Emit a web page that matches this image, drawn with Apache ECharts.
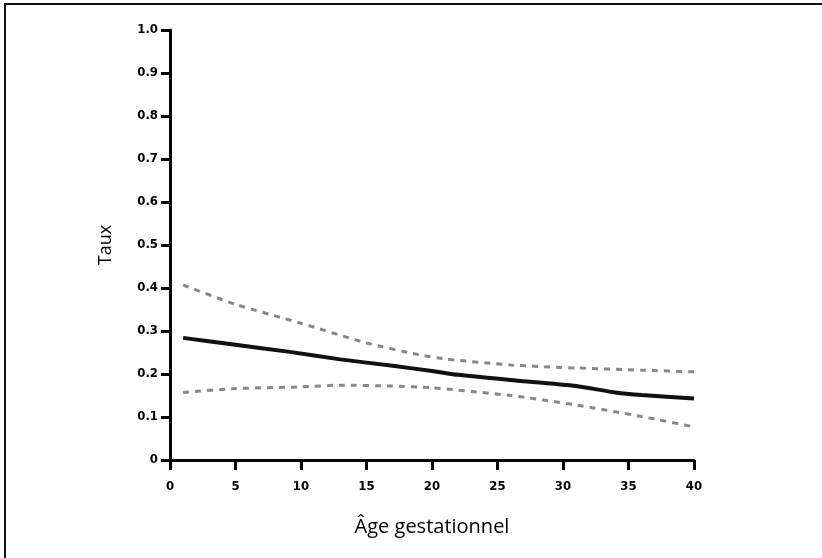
<!DOCTYPE html>
<html>
<head>
<meta charset="utf-8">
<script src="https://cdn.jsdelivr.net/npm/echarts@6/dist/echarts.min.js"></script>
<style>
  html, body { margin: 0; padding: 0; background: #fff; }
  #chart { width: 822px; height: 558px; }
</style>
</head>
<body>
<div id="chart"></div>
<script>
  // taux estime et bornes de l'intervalle
  var tauxPoints = [[1, 0.284], [5, 0.268], [9, 0.252], [13, 0.234], [17, 0.219], [20, 0.207],
    [22, 0.198], [26, 0.186], [31, 0.172], [34, 0.157], [36, 0.151], [40, 0.143]];
  var bornSup = [[1, 0.407], [5, 0.362], [10, 0.318], [15, 0.272], [19, 0.245], [21, 0.235],
    [26, 0.221], [31, 0.214], [36, 0.209], [40, 0.205]];
  var bornInf = [[1, 0.157], [5, 0.166], [10, 0.170], [13, 0.174], [17, 0.172], [20, 0.168],
    [26, 0.150], [31, 0.128], [36, 0.101], [40, 0.077]];
  var xTicks = [0, 5, 10, 15, 20, 25, 30, 35, 40];
  var yTicks = ['0', '0.1', '0.2', '0.3', '0.4', '0.5', '0.6', '0.7', '0.8', '0.9', '1.0'];

  var tickFont = {
    color: '#000',
    fontFamily: 'DejaVu Sans Condensed, Liberation Sans Narrow, sans-serif',
    fontWeight: 'bold',
    fontSize: 13
  };

  var myChart = echarts.init(document.getElementById('chart'));
  myChart.setOption({
    animation: false,
    backgroundColor: '#fff',
    grid: { left: 170, top: 30, right: 128, bottom: 98 },
    graphic: [
      { type: 'line', shape: { x1: 5, y1: 3, x2: 5, y2: 558 }, style: { stroke: '#111', lineWidth: 2 } },
      { type: 'line', shape: { x1: 4, y1: 4, x2: 822, y2: 4 }, style: { stroke: '#111', lineWidth: 2 } }
    ],
    xAxis: {
      type: 'value',
      min: 0,
      max: 40,
      interval: 5,
      name: 'Âge gestationnel',
      nameLocation: 'middle',
      nameGap: 57,
      nameTextStyle: { color: '#000', fontSize: 20, fontFamily: 'Open Sans, sans-serif' },
      axisLine: { lineStyle: { color: '#000', width: 3 } },
      axisTick: { length: 10, lineStyle: { color: '#000', width: 3 } },
      axisLabel: Object.assign({ margin: 20, formatter: function (v) { return xTicks.indexOf(v) >= 0 ? String(v) : ''; } }, tickFont),
      splitLine: { show: false }
    },
    yAxis: {
      type: 'value',
      min: 0,
      max: 1,
      interval: 0.1,
      name: 'Taux',
      nameLocation: 'middle',
      nameGap: 55,
      nameTextStyle: { color: '#000', fontSize: 18, fontFamily: 'Open Sans, sans-serif' },
      axisLine: { show: true, lineStyle: { color: '#000', width: 3 } },
      axisTick: { show: true, length: 9, lineStyle: { color: '#000', width: 3 } },
      axisLabel: Object.assign({ margin: 12, formatter: function (v) { return yTicks[Math.round(v * 10)]; } }, tickFont),
      splitLine: { show: false }
    },
    series: [
      {
        name: 'Taux',
        type: 'line',
        data: tauxPoints,
        showSymbol: false,
        smooth: 0.2,
        lineStyle: { color: '#111', width: 4 }
      },
      {
        name: 'Borne supérieure',
        type: 'line',
        data: bornSup,
        showSymbol: false,
        smooth: 0.2,
        lineStyle: { color: '#888', width: 3, type: [6, 6] }
      },
      {
        name: 'Borne inférieure',
        type: 'line',
        data: bornInf,
        showSymbol: false,
        smooth: 0.2,
        lineStyle: { color: '#888', width: 3, type: [6, 6] }
      }
    ]
  });
</script>
</body>
</html>
